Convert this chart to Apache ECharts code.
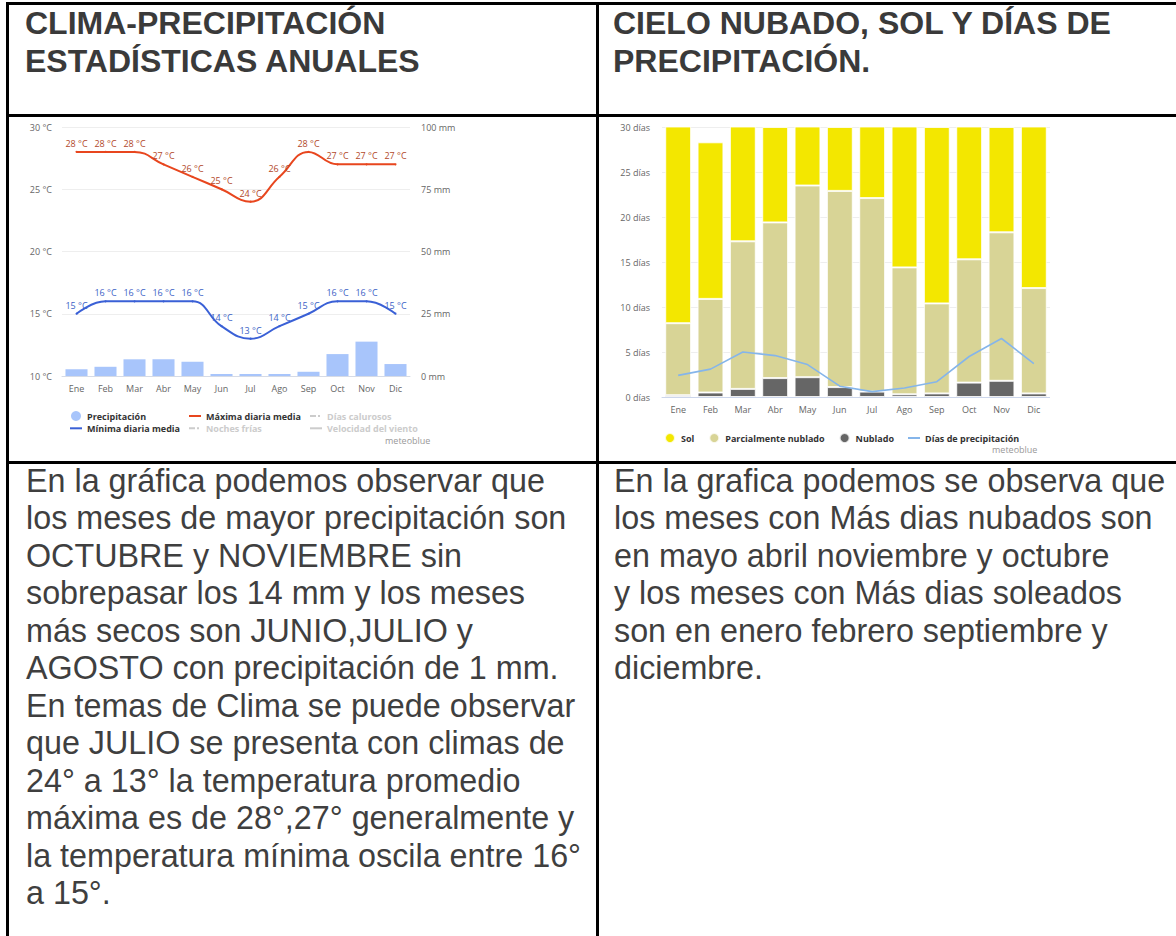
<!DOCTYPE html>
<html lang="es">
<head>
<meta charset="utf-8">
<title>Clima y cielo</title>
<script src="https://cdn.jsdelivr.net/npm/echarts@6/dist/echarts.min.js"></script>
<style>
  html, body { margin: 0; padding: 0; background: #fff; }
  body { width: 1176px; height: 936px; position: relative; overflow: hidden;
         font-family: "Liberation Sans", Arial, sans-serif; }
  .rule { position: absolute; background: #000; }
  .head { position: absolute; font-weight: bold; font-size: 32px; line-height: 38px;
          color: #3a3a3a; white-space: nowrap; }
  .body { position: absolute; font-size: 32.3px; line-height: 37.45px; color: #3f3f3f;
          white-space: nowrap; }
  .chart { position: absolute; }
</style>
</head>
<body>
  <!-- table rules -->
  <div class="rule" style="left:6px;top:2px;width:1170px;height:3px"></div>
  <div class="rule" style="left:6px;top:2px;width:3px;height:934px"></div>
  <div class="rule" style="left:596px;top:2px;width:3px;height:934px"></div>
  <div class="rule" style="left:6px;top:114px;width:1170px;height:3px"></div>
  <div class="rule" style="left:6px;top:461px;width:1170px;height:3px"></div>

  <!-- headers -->
  <div class="head" style="left:25px;top:4px">CLIMA-PRECIPITACIÓN<br>ESTADÍSTICAS ANUALES</div>
  <div class="head" style="left:613px;top:4px">CIELO NUBADO, SOL Y DÍAS DE<br>PRECIPITACIÓN.</div>

  <!-- charts -->
  <div id="clima" class="chart" style="left:20px;top:118px;width:440px;height:340px"></div>
  <div id="cielo" class="chart" style="left:605px;top:118px;width:445px;height:340px"></div>

  <!-- commentary -->
  <div class="body" style="left:26px;top:463px">En la gráfica podemos observar que<br>los meses de mayor precipitación son<br>OCTUBRE y NOVIEMBRE sin<br>sobrepasar los 14 mm y los meses<br>más secos son JUNIO,JULIO y<br>AGOSTO con precipitación de 1 mm.<br>En temas de Clima se puede observar<br>que JULIO se presenta con climas de<br>24° a 13° la temperatura promedio<br>máxima es de 28°,27° generalmente y<br>la temperatura mínima oscila entre 16°<br>a 15°.</div>
  <div class="body" style="left:614px;top:463px">En la grafica podemos se observa que<br>los meses con Más dias nubados son<br>en mayo abril noviembre y octubre<br>y los meses con Más dias soleados<br>son en enero febrero septiembre y<br>diciembre.</div>

<script>
// ---- data ----
const months = ['Ene', 'Feb', 'Mar', 'Abr', 'May', 'Jun', 'Jul', 'Ago', 'Sep', 'Oct', 'Nov', 'Dic'];

// monthly climate (°C, mm)
const tempMax = [28, 28, 28, 27, 26, 25, 24, 26, 28, 27, 27, 27];
const tempMin = [15, 16, 16, 16, 16, 14, 13, 14, 15, 16, 16, 15];
const precipMm = [2.7, 3.7, 6.7, 6.7, 5.7, 0.8, 0.8, 0.8, 1.7, 8.8, 13.8, 4.8];

// days per month by sky condition
const sunDays = [22.8, 17.4, 13.8, 10.6, 7.5, 7.1, 8.9, 16.7, 19.6, 15.7, 11.7, 18.9];
const partlyDays = [8.0, 10.4, 16.4, 17.3, 21.3, 21.8, 21.5, 14.1, 10.0, 13.7, 16.5, 11.7];
const overcastDays = [0.2, 0.5, 0.9, 2.1, 2.2, 1.1, 0.6, 0.3, 0.4, 1.6, 1.8, 0.4];
const rainDays = [2.4, 3.1, 5.0, 4.6, 3.6, 1.2, 0.6, 1.0, 1.7, 4.5, 6.5, 3.7];

// axis ranges
const tempAxis = { min: 10, max: 30, step: 5 };
const mmAxis = { min: 0, max: 100, step: 25 };
const dayAxis = { min: 0, max: 30, step: 5 };

// ---- shared styling ----
const FONT = '"Open Sans", "DejaVu Sans", sans-serif';
const axisText = { color: '#666', fontSize: 9, fontFamily: FONT };
const legendText = { color: '#333', fontSize: 9, fontWeight: 'bold', fontFamily: FONT, lineHeight: 10 };
const LINE_ICON = 'path://M0,0 M0,4 L12,4 L12,6 L0,6 Z M12,10';
const DASHDOT_ICON = 'path://M0,0 M0,4 L6,4 L6,6 L0,6 Z M8,4 L10,4 L10,6 L8,6 Z M12,10';

function tempLine(name, values, lineColor, labelColor) {
  return {
    name, type: 'line', data: values, yAxisIndex: 0, smooth: 0.45,
    symbol: 'circle', symbolSize: 2, silent: true, z: 3,
    itemStyle: { color: lineColor },
    lineStyle: { color: lineColor, width: 2 },
    label: { show: true, position: 'top', distance: 3, formatter: '{c} °C',
             color: labelColor, fontSize: 9, fontFamily: FONT },
    emphasis: { disabled: true }
  };
}

// ---- climate chart ----
const clima = echarts.init(document.getElementById('clima'), null, { renderer: 'svg' });
const climaLegend = { orient: 'vertical', top: 288, itemWidth: 12, itemHeight: 10, itemGap: 2.3,
                      textStyle: legendText, inactiveColor: '#cccccc', selectedMode: false };
clima.setOption({
  animation: false,
  grid: { left: 42, top: 9, width: 348, height: 249, containLabel: false },
  xAxis: {
    type: 'category', data: months,
    axisLine: { lineStyle: { color: '#d6dbe6' } }, axisTick: { show: false },
    axisLabel: Object.assign({ margin: 8, interval: 0 }, axisText)
  },
  yAxis: [
    { type: 'value', min: tempAxis.min, max: tempAxis.max, interval: tempAxis.step,
      axisLabel: Object.assign({ formatter: '{value} °C', margin: 10 }, axisText),
      axisLine: { show: false }, axisTick: { show: false },
      splitLine: { lineStyle: { color: '#eeeeee' } } },
    { type: 'value', min: mmAxis.min, max: mmAxis.max, interval: mmAxis.step,
      axisLabel: Object.assign({ formatter: '{value} mm', margin: 11 }, axisText),
      axisLine: { show: false }, axisTick: { show: false }, splitLine: { show: false } }
  ],
  legend: [
    Object.assign({ left: 45,
      data: [{ name: 'Precipitación', icon: 'circle' }, { name: 'Mínima diaria media', icon: LINE_ICON }] }, climaLegend),
    Object.assign({ left: 164, selected: { 'Noches frías': false },
      data: [{ name: 'Máxima diaria media', icon: LINE_ICON }, { name: 'Noches frías', icon: DASHDOT_ICON }] }, climaLegend),
    Object.assign({ left: 285, selected: { 'Días calurosos': false, 'Velocidad del viento': false },
      data: [{ name: 'Días calurosos', icon: DASHDOT_ICON }, { name: 'Velocidad del viento', icon: LINE_ICON }] }, climaLegend)
  ],
  graphic: [
    { type: 'text', left: 365, top: 318,
      style: { text: 'meteoblue', fill: '#999', fontSize: 9, fontFamily: FONT } }
  ],
  series: [
    { name: 'Precipitación', type: 'bar', data: precipMm, yAxisIndex: 1,
      barCategoryGap: '24%', silent: true, z: 1,
      itemStyle: { color: '#a8c5fb' }, emphasis: { disabled: true } },
    tempLine('Máxima diaria media', tempMax, '#e8461e', '#b2482a'),
    tempLine('Mínima diaria media', tempMin, '#3a60d6', '#3c62c6'),
    { name: 'Días calurosos', type: 'line', data: [], itemStyle: { color: '#ff8c5a' } },
    { name: 'Noches frías', type: 'line', data: [], itemStyle: { color: '#7aa7ff' } },
    { name: 'Velocidad del viento', type: 'line', data: [], itemStyle: { color: '#999999' } }
  ]
});

// ---- sky chart ----
const cielo = echarts.init(document.getElementById('cielo'), null, { renderer: 'svg' });
const barBase = { type: 'bar', stack: 'cielo', barCategoryGap: '20%', silent: true, clip: true,
                  emphasis: { disabled: true } };
cielo.setOption({
  animation: false,
  grid: { left: 57, top: 9, width: 402, height: 270, containLabel: false },
  xAxis: {
    type: 'category', data: months,
    axisLine: { lineStyle: { color: '#ccd6eb' } }, axisTick: { show: false },
    axisLabel: Object.assign({ margin: 8, interval: 0 }, axisText)
  },
  yAxis: {
    type: 'value', min: dayAxis.min, max: dayAxis.max, interval: dayAxis.step,
    axisLabel: Object.assign({ formatter: '{value} días', margin: 12 }, axisText),
    axisLine: { show: false }, axisTick: { show: false },
    splitLine: { lineStyle: { color: '#eeeeee' } }
  },
  legend: {
    orient: 'horizontal', left: 54, top: 309, itemWidth: 12, itemHeight: 10, itemGap: 14,
    textStyle: legendText, selectedMode: false,
    data: [
      { name: 'Sol', icon: 'circle' },
      { name: 'Parcialmente nublado', icon: 'circle' },
      { name: 'Nublado', icon: 'circle' },
      { name: 'Días de precipitación', icon: LINE_ICON }
    ]
  },
  graphic: [
    { type: 'text', left: 387, top: 327,
      style: { text: 'meteoblue', fill: '#999', fontSize: 9, fontFamily: FONT } }
  ],
  series: [
    Object.assign({ name: 'Nublado', data: overcastDays,
      itemStyle: { color: '#666666', borderColor: 'rgba(255,255,255,0.8)', borderWidth: 1 } }, barBase),
    Object.assign({ name: 'Parcialmente nublado', data: partlyDays,
      itemStyle: { color: '#d8d496', borderColor: 'rgba(255,255,255,0.8)', borderWidth: 1 } }, barBase),
    Object.assign({ name: 'Sol', data: sunDays,
      itemStyle: { color: '#f3e700', borderColor: 'rgba(255,255,255,0.8)', borderWidth: 1 } }, barBase),
    { name: 'Días de precipitación', type: 'line', data: rainDays, symbol: 'none', silent: true, z: 5,
      itemStyle: { color: '#85b5ea' }, lineStyle: { color: '#85b5ea', width: 1.6 },
      emphasis: { disabled: true } }
  ]
});
</script>
</body>
</html>
